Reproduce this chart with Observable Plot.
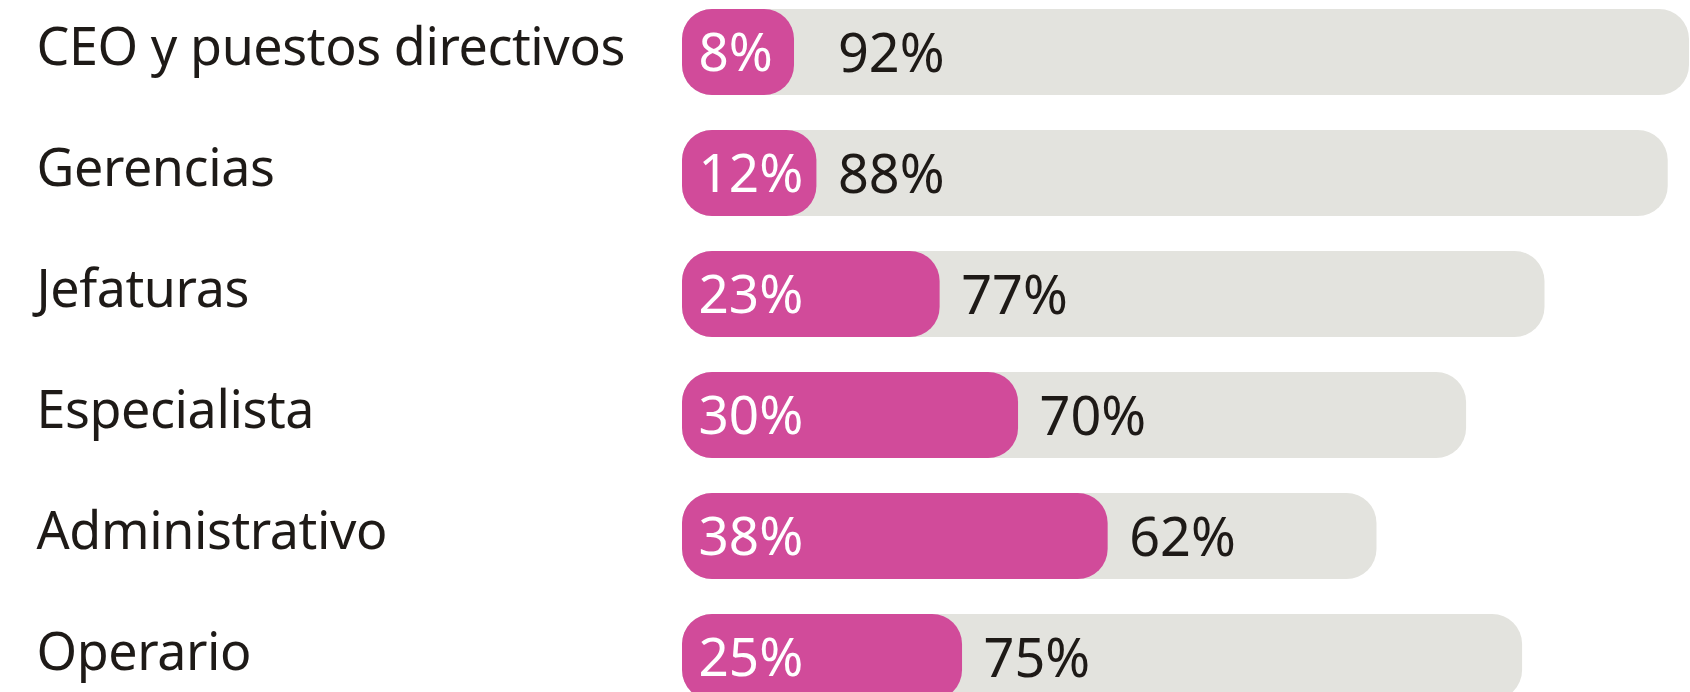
<!DOCTYPE html>
<html>
<head>
<meta charset="utf-8">
<script src="https://cdn.jsdelivr.net/npm/d3@7"></script>
<script src="https://cdn.jsdelivr.net/npm/@observablehq/plot@0.6"></script>
<style>
  html, body { margin: 0; padding: 0; background: #ffffff; overflow: hidden; }
  #chart svg { display: block; }
  #chart g[aria-label="y-axis tick label"] text { letter-spacing: -0.4px; }
</style>
</head>
<body>
<div id="chart"></div>
<script>
const categorias = ["CEO y puestos directivos", "Gerencias", "Jefaturas", "Especialista", "Administrativo", "Operario"];
const mujeres = [8, 12, 23, 30, 38, 25];
const hombres = [92, 88, 77, 70, 62, 75];

const rows = categorias.map((c, i) => ({cat: c, m: mujeres[i], h: hombres[i]}));
const minPink = 10;   // minimum pink width so the label fits
const labelAnchor = 12;

const pink = "#d14b9a";
const grey = "#e3e3de";
const ink = "#1e1a17";
const font = "Noto Sans";

const chart = Plot.plot({
  width: 1690,
  height: 692,
  marginLeft: 682,
  marginRight: 1,
  marginTop: 7,
  marginBottom: 0,
  style: {fontFamily: font, background: "transparent", overflow: "visible"},
  x: {domain: [0, 89.9], range: [682, 1689], clamp: true, axis: null},
  y: {domain: categorias, range: [7, 701], paddingInner: 0.293, paddingOuter: 0, align: 0.5},
  marks: [
    Plot.barX(rows, {y: "cat", x1: 0, x2: "h", fill: grey, rx: 30, ry: 30}),
    Plot.barX(rows, {y: "cat", x1: 0, x2: d => Math.max(d.m, minPink), fill: pink, rx: 30, ry: 30}),
    Plot.text(rows, {y: "cat", x: 0, text: d => d.m + "%", textAnchor: "start", dx: 16, dy: 2,
      fill: "#ffffff", fontSize: 53, fontFamily: font}),
    Plot.text(rows, {y: "cat", x: d => Math.max(d.m, labelAnchor), text: d => d.h + "%", textAnchor: "start", dx: 21, dy: 2,
      fill: ink, fontSize: 54, fontFamily: font}),
    Plot.axisY({tickSize: 0, tickPadding: 0, textAnchor: "start", dx: -646, dy: -4,
      fontSize: 52, fill: ink, label: null})
  ]
});
document.getElementById("chart").appendChild(chart);
</script>
</body>
</html>
